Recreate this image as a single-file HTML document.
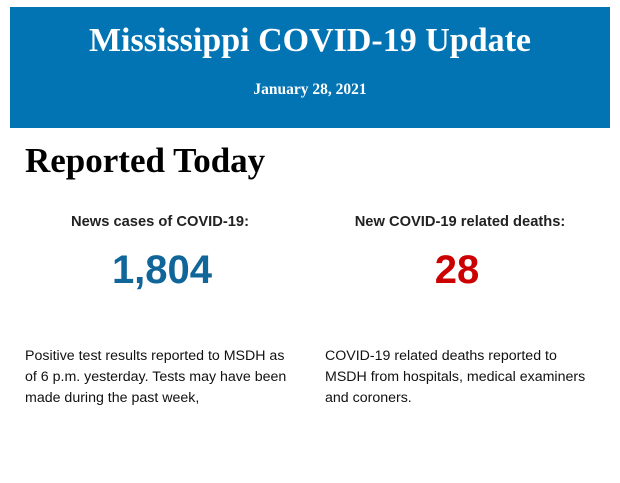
<!DOCTYPE html>
<html><head><meta charset="utf-8"><style>
body{margin:0;width:620px;height:483px;background:#fff;position:relative;overflow:hidden;font-family:"Liberation Sans",sans-serif;}
.hdr{position:absolute;left:10px;top:7px;width:600px;height:121px;background:#0274b3;color:#fff;text-align:center;font-family:"Liberation Serif",serif;font-weight:bold;}
.t{position:absolute;top:15px;left:0;right:0;font-size:34px;}
.d{position:absolute;top:74px;left:0;right:0;font-size:15.5px;}
h1{position:absolute;left:25px;top:141px;margin:0;font-family:"Liberation Serif",serif;font-size:35px;}
.lab{position:absolute;top:214px;width:290px;text-align:center;font-weight:bold;font-size:14.7px;color:#222;}
.num{position:absolute;top:248px;width:290px;text-align:center;font-weight:bold;font-size:40px;}
.p{position:absolute;top:346px;width:272px;font-size:14.2px;line-height:21px;color:#111;}
</style></head><body>
<div class="hdr"><div class="t">Mississippi COVID-19 Update</div><div class="d">January 28, 2021</div></div>
<h1>Reported Today</h1>
<div class="lab" style="left:15px">News cases of COVID-19:</div>
<div class="lab" style="left:315px">New COVID-19 related deaths:</div>
<div class="num" style="left:17px;color:#116699">1,804</div>
<div class="num" style="left:312px;color:#cc0000">28</div>
<div class="p" style="left:25px">Positive test results reported to MSDH as of 6 p.m. yesterday. Tests may have been made during the past week,</div>
<div class="p" style="left:325px">COVID-19 related deaths reported to MSDH from hospitals, medical examiners and coroners.</div>
</body></html>
